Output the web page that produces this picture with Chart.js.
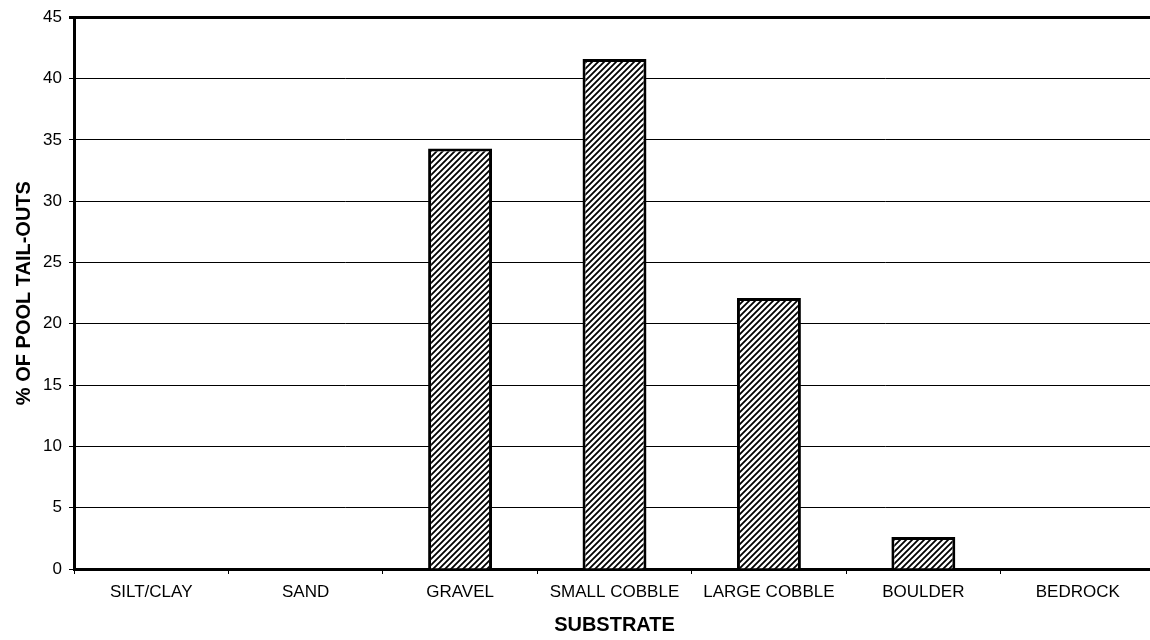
<!DOCTYPE html>
<html>
<head>
<meta charset="utf-8">
<script src="https://cdn.jsdelivr.net/npm/chart.js@4"></script>
<style>
  html, body { margin: 0; padding: 0; background: #fff; overflow: hidden; }
  #wrap { width: 1155px; height: 640px; }
</style>
</head>
<body>
<div id="wrap"><canvas id="substrateChart"></canvas></div>
<script>
const categories = ['SILT/CLAY', 'SAND', 'GRAVEL', 'SMALL COBBLE', 'LARGE COBBLE', 'BOULDER', 'BEDROCK'];
const pctTailOuts = [0, 0, 34.3, 41.6, 22.1, 2.6, 0];
const yTicks = [0, 5, 10, 15, 20, 25, 30, 35, 40, 45];

const FONT = 'Arial, "Liberation Sans", sans-serif';

// diagonal hatch fill like the original
const makeHatch = () => {
    const size = 6;
    const c = document.createElement('canvas');
    c.width = size;
    c.height = size;
    const g = c.getContext('2d');
    g.fillStyle = '#fff';
    g.fillRect(0, 0, size, size);
    g.strokeStyle = '#000';
    g.lineWidth = 1.8;
    g.beginPath();
    g.moveTo(-1, size + 1); g.lineTo(size + 1, -1);
    g.moveTo(-1, 1); g.lineTo(1, -1);
    g.moveTo(size - 1, size + 1); g.lineTo(size + 1, size - 1);
    g.stroke();
    return g.createPattern(c, 'repeat');
};

document.addEventListener('DOMContentLoaded', () => {
    const ctx = document.getElementById('substrateChart').getContext('2d');
    const hatch = makeHatch();
    new Chart(ctx, {
        type: 'bar',
        data: {
            labels: categories,
            datasets: [{
                label: '% of pool tail-outs',
                data: pctTailOuts,
                backgroundColor: hatch,
                borderColor: '#000',
                borderWidth: 3,
                borderSkipped: 'bottom',
                categoryPercentage: 1,
                barPercentage: 0.414,
            }],
        },
        options: {
            responsive: true,
            maintainAspectRatio: false,
            animation: false,
            layout: { padding: { top: 15, right: 0, left: 0, bottom: 0 } },
            plugins: {
                legend: { display: false },
                tooltip: { enabled: false },
            },
            scales: {
                x: {
                    afterFit: (axis) => { axis.height = 71; },
                    grid: {
                        offset: true,
                        drawOnChartArea: false,
                        drawTicks: true,
                        tickLength: 5,
                        color: '#000',
                        lineWidth: 1,
                    },
                    border: { display: true, color: '#000', width: 3 },
                    ticks: {
                        color: '#000',
                        font: { family: FONT, size: 17 },
                        padding: 8,
                        maxRotation: 0,
                    },
                    title: {
                        display: true,
                        text: 'SUBSTRATE',
                        color: '#000',
                        font: { family: FONT, size: 20, weight: 'bold' },
                        padding: { top: 0, bottom: 3 },
                    },
                },
                y: {
                    min: 0,
                    max: 45,
                    afterFit: (axis) => { axis.width = 74; },
                    afterBuildTicks: (axis) => {
                        axis.ticks = yTicks.map(v => ({ value: v }));
                    },
                    grid: {
                        color: '#000',
                        lineWidth: (c) => (c.tick && c.tick.value === 45 ? 3 : 1),
                        drawTicks: true,
                        tickLength: 5,
                    },
                    border: { display: true, color: '#000', width: 3 },
                    ticks: {
                        color: '#000',
                        font: { family: FONT, size: 17 },
                        padding: 7,
                    },
                    title: {
                        display: true,
                        text: '% OF POOL TAIL-OUTS',
                        color: '#000',
                        font: { family: FONT, size: 20, weight: 'bold' },
                        padding: { top: 12, bottom: 0 },
                    },
                },
            },
        },
    });
});
</script>
</body>
</html>
